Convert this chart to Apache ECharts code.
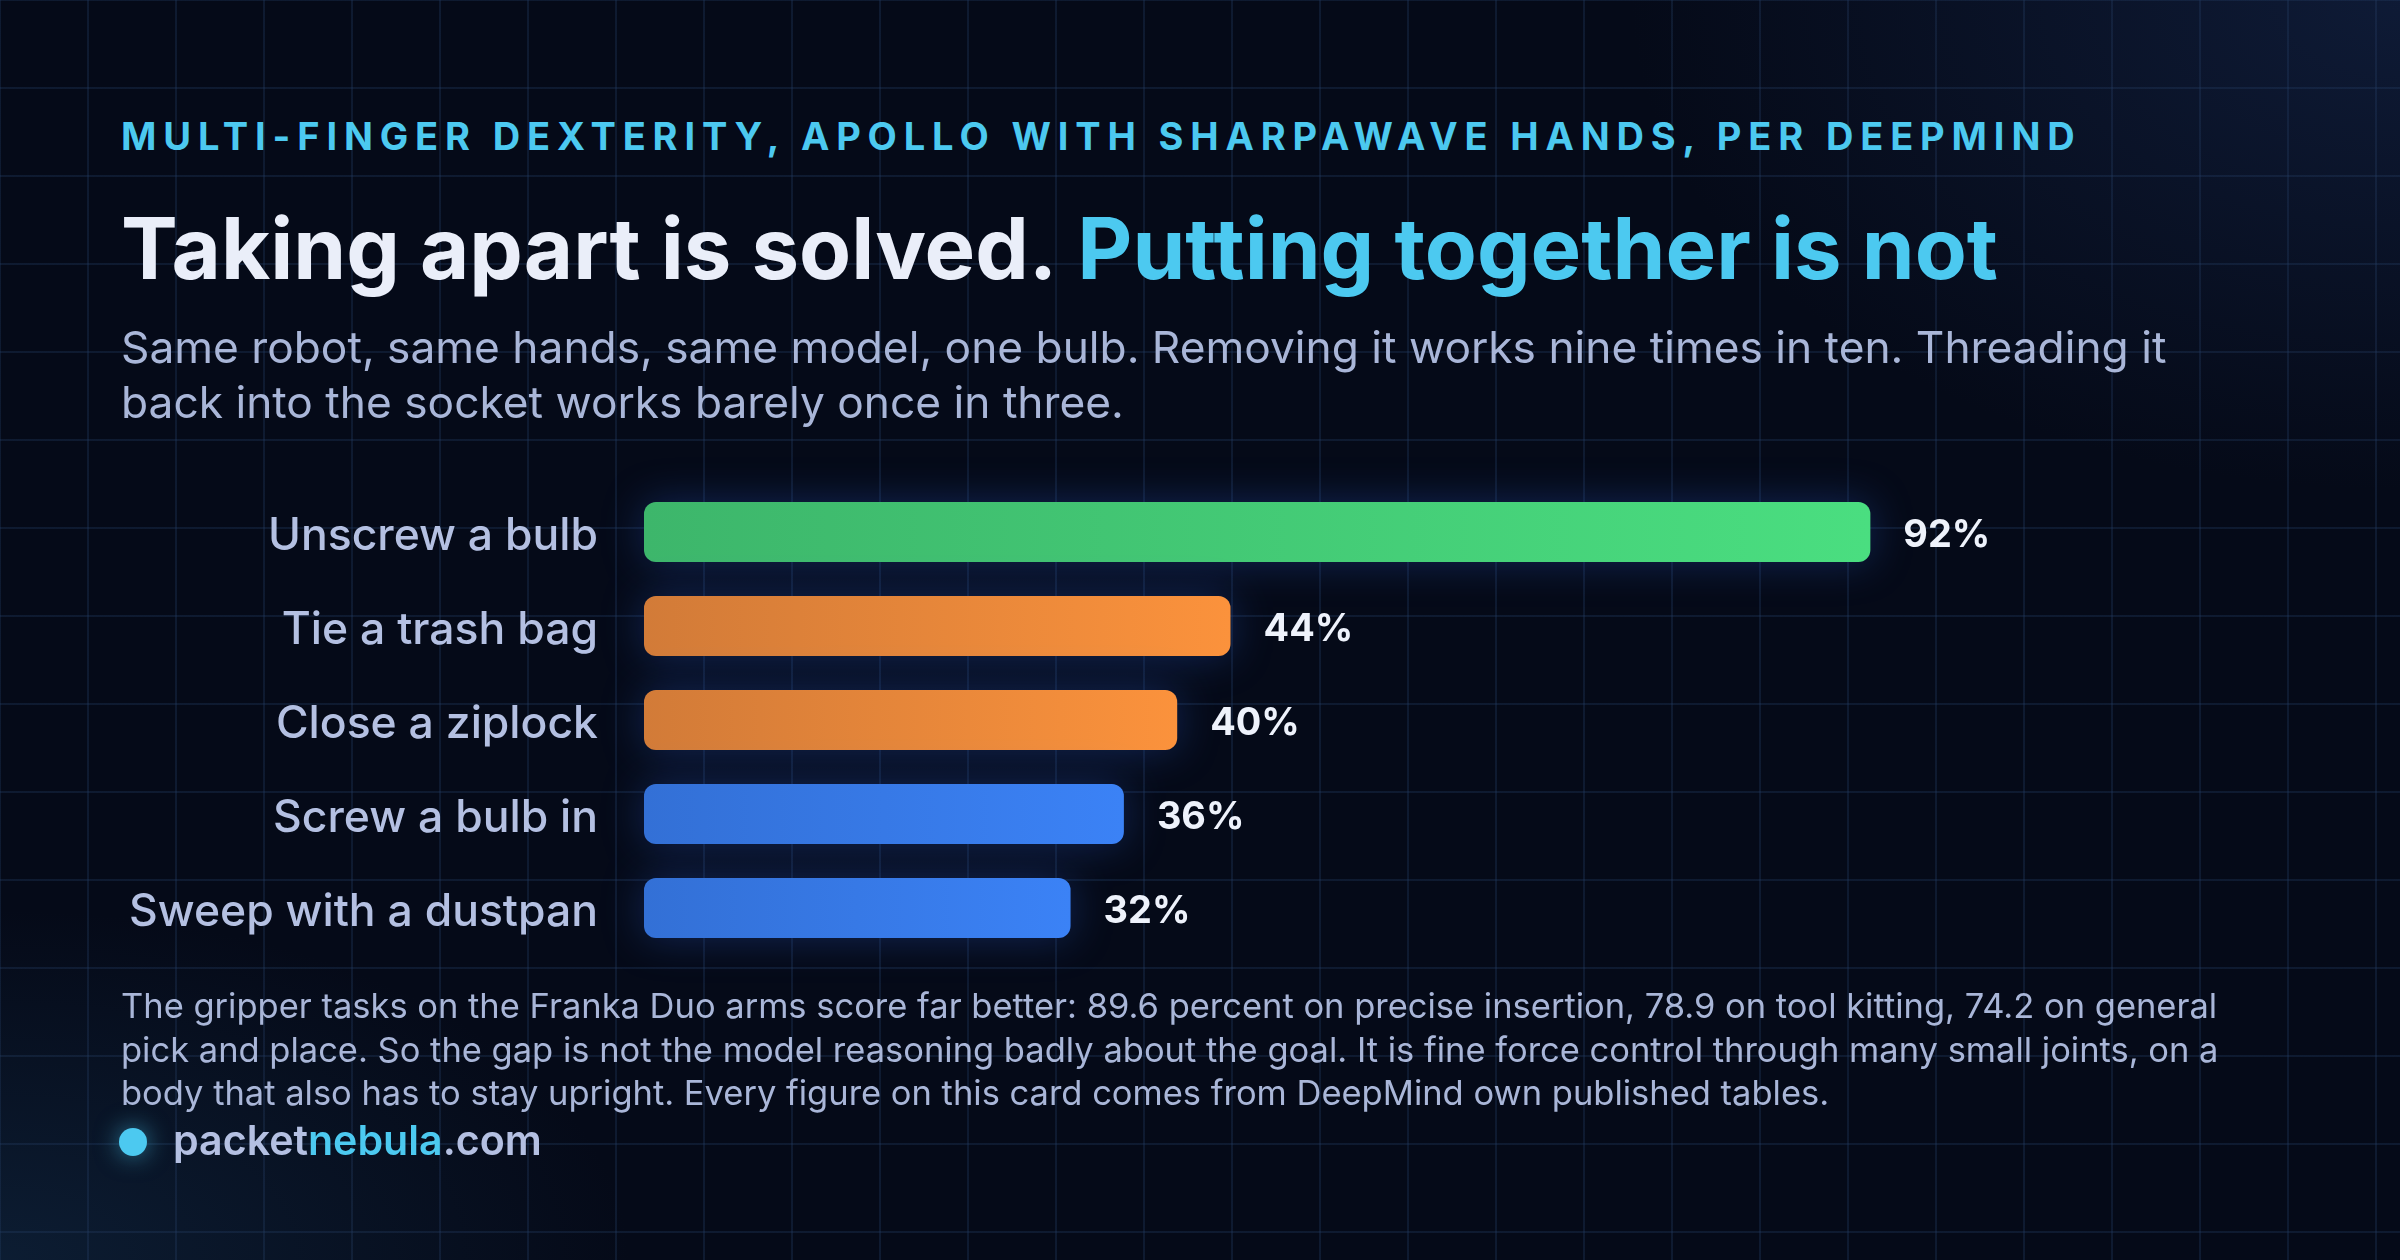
<!DOCTYPE html>
<html>
<head>
<meta charset="utf-8">
<script src="https://cdn.jsdelivr.net/npm/echarts@6/dist/echarts.min.js"></script>
<style>
  html, body { margin:0; padding:0; width:2400px; height:1260px; overflow:hidden; }
  body {
    background-color:#050a18;
    background-image:
      linear-gradient(rgba(38,64,104,0.30) 2px, transparent 2px),
      linear-gradient(90deg, rgba(38,64,104,0.30) 2px, transparent 2px),
      radial-gradient(ellipse 1100px 700px at 100% 0%, rgba(22,40,78,0.55), rgba(5,10,24,0) 70%),
      radial-gradient(ellipse 900px 500px at 0% 100%, rgba(18,44,72,0.55), rgba(5,10,24,0) 70%);
    background-size: 88px 88px, 88px 88px, 100% 100%, 100% 100%;
    background-position: -1px -1px, -1px -1px, 0 0, 0 0;
  }
  #chart { position:absolute; left:0; top:0; width:2400px; height:1260px; }
  #kicker { position:absolute; left:121px; top:117px; font-family:Inter, sans-serif; font-weight:700;
    font-size:38px; line-height:38px; color:#4cc9f0; white-space:nowrap; }
</style>
</head>
<body>
<div id="kicker"></div>
<div id="chart"></div>
<script>
const kickerText = 'MULTI-FINGER DEXTERITY, APOLLO WITH SHARPAWAVE HANDS, PER DEEPMIND';
const titleWhite = 'Taking apart is solved.';
const titleCyan = 'Putting together is not';
const descLines = [
  'Same robot, same hands, same model, one bulb. Removing it works nine times in ten. Threading it',
  'back into the socket works barely once in three.'
];
const footLines = [
  'The gripper tasks on the Franka Duo arms score far better: 89.6 percent on precise insertion, 78.9 on tool kitting, 74.2 on general',
  'pick and place. So the gap is not the model reasoning badly about the goal. It is fine force control through many small joints, on a',
  'body that also has to stay upright. Every figure on this card comes from DeepMind own published tables.'
];
const brand = ['packet', 'nebula', '.com'];

const categories = ['Unscrew a bulb', 'Tie a trash bag', 'Close a ziplock', 'Screw a bulb in', 'Sweep with a dustpan'];
const values = [92, 44, 40, 36, 32];
const groups = ['green', 'orange', 'orange', 'blue', 'blue'];

const FAMILY = 'Inter, "Noto Sans", sans-serif';
const mctx = document.createElement('canvas').getContext('2d');
function measure(text, weight, size) {
  mctx.font = weight + ' ' + size + 'px ' + FAMILY;
  return mctx.measureText(text).width;
}
function fit(text, weight, target) {
  return 100 * target / measure(text, weight, 100);
}

const kEl = document.getElementById('kicker');
kEl.textContent = kickerText;
const kw = measure(kickerText, 700, 38);
kEl.style.letterSpacing = ((1956 - kw) / (kickerText.length - 1)) + 'px';

const titleSize = fit(titleWhite + ' ' + titleCyan, 700, 1877);
const descSize = fit(descLines[0], 400, 2046);
const footSize = fit(footLines[0], 400, 2097);
const brandSize = fit(brand.join(''), 600, 369);
const catSize = fit(categories[4], 500, 469);
const valSize = fit('92%', 700, 87);
const MID = 0.29;

const palette = {
  green: ['#3db66b', '#4ade80'],
  orange: ['#d27b38', '#fb923c'],
  blue: ['#3370d6', '#3b82f6']
};

const chart = echarts.init(document.getElementById('chart'), null, { renderer: 'canvas' });

const graphics = [];
graphics.push({
  type: 'text', x: 121, y: 278 - MID * titleSize, silent: true,
  style: {
    text: '{a|' + titleWhite + '} {b|' + titleCyan + '}',
    verticalAlign: 'middle',
    rich: {
      a: { fontFamily: FAMILY, fontWeight: 700, fontSize: titleSize, fill: '#eaeef9' },
      b: { fontFamily: FAMILY, fontWeight: 700, fontSize: titleSize, fill: '#4cc9f0' }
    },
    fontFamily: FAMILY, fontWeight: 700, fontSize: titleSize
  }
});
const descBase = [363, 418];
descLines.forEach((t, i) => graphics.push({
  type: 'text', x: 121, y: descBase[i] - MID * descSize, silent: true,
  style: { text: t, fill: '#a9b6d8', fontFamily: FAMILY, fontWeight: 400, fontSize: descSize, verticalAlign: 'middle' }
}));
const footBase = [1018, 1062, 1105];
footLines.forEach((t, i) => graphics.push({
  type: 'text', x: 121, y: footBase[i] - MID * footSize, silent: true,
  style: { text: t, fill: '#a9b6d8', fontFamily: FAMILY, fontWeight: 400, fontSize: footSize, verticalAlign: 'middle' }
}));
graphics.push({
  type: 'circle', shape: { cx: 133, cy: 1142, r: 14 }, silent: true,
  style: { fill: '#4cc9f0', shadowBlur: 24, shadowColor: 'rgba(76,201,240,0.6)' }
});
graphics.push({
  type: 'text', x: 173, y: 1155 - MID * brandSize, silent: true,
  style: {
    text: '{a|' + brand[0] + '}{b|' + brand[1] + '}{a|' + brand[2] + '}',
    verticalAlign: 'middle',
    rich: {
      a: { fontFamily: FAMILY, fontWeight: 600, fontSize: brandSize, fill: '#b4c0e2' },
      b: { fontFamily: FAMILY, fontWeight: 600, fontSize: brandSize, fill: '#4cc9f0' }
    },
    fontFamily: FAMILY, fontWeight: 600, fontSize: brandSize
  }
});

chart.setOption({
  backgroundColor: 'transparent',
  animation: false,
  graphic: graphics,
  grid: { left: 644, top: 485, width: 1333, height: 470, containLabel: false },
  xAxis: { type: 'value', min: 0, max: 100, show: false },
  yAxis: {
    type: 'category', data: categories, inverse: true,
    axisLine: { show: false }, axisTick: { show: false }, splitLine: { show: false },
    axisLabel: {
      margin: 46, color: '#b4c0e2', fontFamily: FAMILY, fontWeight: 500, fontSize: catSize,
      formatter: '{a|{value}}',
      rich: { a: { color: '#b4c0e2', fontFamily: FAMILY, fontWeight: 500, fontSize: catSize, padding: [9, 0, 0, 0] } }
    }
  },
  series: [{
    type: 'bar', barWidth: 60,
    data: values.map((v, i) => ({
      value: v,
      itemStyle: {
        color: new echarts.graphic.LinearGradient(0, 0, 1, 0, [
          { offset: 0, color: palette[groups[i]][0] },
          { offset: 1, color: palette[groups[i]][1] }
        ]),
        borderRadius: 12,
        shadowBlur: 40,
        shadowColor: 'rgba(40,90,200,0.35)'
      }
    })),
    label: {
      show: true, position: 'right', distance: 33, formatter: '{c}%', offset: [0, 4],
      color: '#eef2fb', fontFamily: FAMILY, fontWeight: 700, fontSize: valSize
    }
  }]
});
</script>
</body>
</html>
